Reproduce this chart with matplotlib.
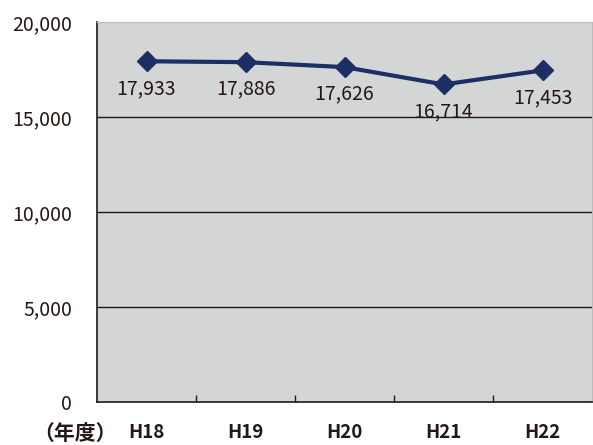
import matplotlib
matplotlib.use("Agg")
from matplotlib import pyplot as plt

plt.rcParams['font.family'] = ['Noto Sans CJK JP', 'DejaVu Sans']

# Data
years = ["H18", "H19", "H20", "H21", "H22"]
values = [17933, 17886, 17626, 16714, 17453]
y_ticks = [0, 5000, 10000, 15000, 20000]

TEXT = "#231815"
LINE = "#1c2f64"
BG = "#d4d5d5"

fig = plt.figure(figsize=(5.93, 4.45), dpi=100)
ax = fig.add_axes([97 / 593, 1 - 402 / 445, 495 / 593, 380 / 445])
ax.set_facecolor(BG)

x = list(range(len(years)))
ax.plot(x, values, color=LINE, linewidth=3, marker="D", markersize=10, zorder=3)

for xi, v in zip(x, values):
    ax.annotate(f"{v:,}", (xi, v), xytext=(0, -19.5), textcoords="offset points",
                ha="center", va="center", fontsize=14, color=TEXT, zorder=4)

ax.set_xlim(-0.5, len(years) - 0.5)
ax.set_ylim(0, 20000)
ax.set_yticks(y_ticks)
ax.set_yticklabels([f"{t:,}" for t in y_ticks], fontsize=14, color=TEXT)
ax.tick_params(axis="y", length=0, pad=18)

for t in y_ticks[1:-1]:
    ax.axhline(t, color=TEXT, linewidth=1, zorder=1)

# category boundary ticks
ax.set_xticks([i + 0.5 for i in range(len(years) - 1)], minor=True)
ax.set_xticks(x)
ax.set_xticklabels(years, fontsize=13.5, color=TEXT, fontweight="bold")
ax.tick_params(axis="x", which="major", length=0, pad=15)
ax.tick_params(axis="x", which="minor", length=5, direction="in", color=TEXT, width=1)

for s in ["left", "bottom"]:
    ax.spines[s].set_color(TEXT)
    ax.spines[s].set_linewidth(1.2)
ax.spines["top"].set_color("#bbbbbb")
ax.spines["right"].set_color("#bbbbbb")

fig.text(33 / 593, 1 - 433 / 445, "（年度）", fontsize=15, color=TEXT,
         fontweight="bold", va="center", ha="left")

fig.savefig("out.png", dpi=100)
